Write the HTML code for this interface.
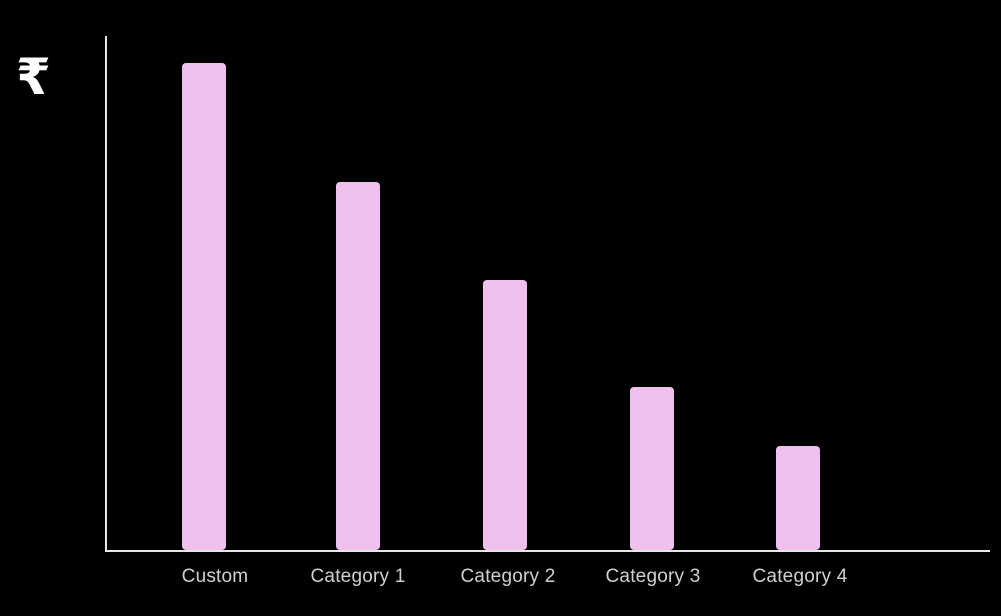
<!DOCTYPE html>
<html><head><meta charset="utf-8"><style>
html,body{margin:0;padding:0;background:#000;}
body{width:1001px;height:611px;overflow:hidden;font-family:"Liberation Sans",sans-serif;}
</style></head><body>
<svg id="chart" width="1001" height="611" xmlns="http://www.w3.org/2000/svg">
<rect width="1001" height="611" fill="#000"/>
<text x="16" y="94" fill="#fff" font-size="50" font-weight="bold" font-family="DejaVu Sans, sans-serif">₹</text>
<line x1="106" y1="36" x2="106" y2="552" stroke="#e6e6e6" stroke-width="2"/>
<line x1="105" y1="551" x2="990" y2="551" stroke="#e6e6e6" stroke-width="2"/>
<g id="bars"></g>
<g id="labels"></g>
</svg>
<script>
const categories = ["Custom","Category 1","Category 2","Category 3","Category 4"];
const values = [487, 368, 270, 163, 104];
const centers = [204, 358, 505, 652, 798];
const labelShift = [11, 0, 3, 1, 2];
const baseY = 550, topY = 36, maxV = 514, barW = 44;
function yScale(v){ return baseY - (v/maxV)*(baseY-topY); }
const NS="http://www.w3.org/2000/svg";
const bars=document.getElementById('bars'), labels=document.getElementById('labels');
categories.forEach((c,i)=>{
  const r=document.createElementNS(NS,'rect');
  const y=yScale(values[i]);
  r.setAttribute('x',centers[i]-barW/2);
  r.setAttribute('y',y);
  r.setAttribute('width',barW);
  r.setAttribute('height',baseY-y);
  r.setAttribute('rx',4);
  r.setAttribute('fill','#f0c1ef');
  
  
  bars.appendChild(r);
  const t=document.createElementNS(NS,'text');
  t.setAttribute('x',centers[i]+labelShift[i]);
  t.setAttribute('y',582);
  t.setAttribute('text-anchor','middle');
  t.setAttribute('fill','#d0d0d0');
  t.setAttribute('font-size','19');
  t.setAttribute('letter-spacing','0.2');
  t.textContent=c;
  
  
  labels.appendChild(t);
});
</script>
</body></html>
